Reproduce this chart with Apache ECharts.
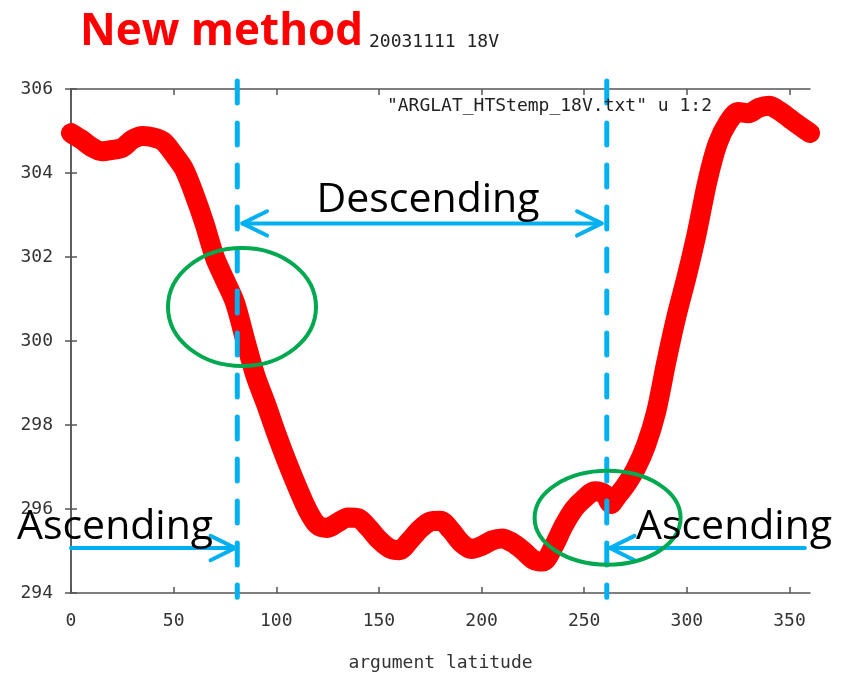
<!DOCTYPE html>
<html><head><meta charset="utf-8">
<script src="https://cdn.jsdelivr.net/npm/echarts@6/dist/echarts.min.js"></script>
<style>html,body{margin:0;padding:0;background:#fff}#c{width:846px;height:678px}</style>
</head><body><div id="c"></div>
<script>
// ---- data ----
const lat = [0,5,10,15,20,25,30,35,40,45,50,55,60,65,70,75,80,85,90,95,100,105,110,115,120,125,130,135,140,145,150,155,160,165,170,175,180,185,190,195,200,205,210,215,220,225,230,235,240,245,250,255,260,263,266,270,275,280,285,290,295,300,305,310,315,320,325,330,335,340,345,350,355,360];
const temp = [304.95,304.8,304.62,304.52,304.55,304.6,304.8,304.88,304.85,304.75,304.45,304.1,303.5,302.8,302.0,301.45,300.9,300.0,299.15,298.5,297.8,297.15,296.55,296.0,295.62,295.55,295.68,295.8,295.78,295.55,295.27,295.07,295.02,295.25,295.52,295.7,295.72,295.5,295.2,295.05,295.12,295.25,295.3,295.2,295.02,294.8,294.75,295.1,295.6,296.0,296.25,296.42,296.35,296.12,296.3,296.55,296.95,297.5,298.3,299.5,300.6,301.55,302.6,303.8,304.7,305.2,305.45,305.42,305.55,305.6,305.48,305.3,305.12,304.95];
const xTicks = [0,50,100,150,200,250,300,350];
const yTicks = [294,296,298,300,302,304,306];
const boundaries = [81, 261];           // dashed vertical lines (argument latitude)
const titleText = 'New method';
const subText = '20031111 18V';
const legendText = '"ARGLAT_HTStemp_18V.txt" u 1:2';
const xName = 'argument latitude';

const chart = echarts.init(document.getElementById('c'), null, {renderer:'canvas'});
const mono = 'DejaVu Sans Mono';
const axisCol = '#555';
const blue = '#00b0f0';

const arrowDx = 12, arrowDy = 0.29;
function arrowHead(tx, ty, dir){ // dir +1 pointing right, -1 pointing left
  return [[tx - dir*arrowDx, ty + arrowDy],[tx, ty],[tx - dir*arrowDx, ty - arrowDy]];
}
function lineSeries(data, color, width, dash, z){
  return {type:'line', data, symbol:'none', clip:false, silent:true, z:z||5,
    lineStyle:{color, width, type: dash||'solid', cap:'round', join:'round'}, animation:false};
}
const descY = 302.8, ascY = 295.07;
const series = [
  {type:'line', data: lat.map((x,i)=>[x,temp[i]]), symbol:'none', smooth:0.3, z:2,
   lineStyle:{color:'#ff0000', width:20, cap:'round', join:'round'}, animation:false},
  lineSeries([[boundaries[0],306.19],[boundaries[0],293.9]], blue, 5, [22,20], 6),
  lineSeries([[boundaries[1],306.19],[boundaries[1],293.9]], blue, 5, [22,20], 6),
  lineSeries([[83.5,descY],[258.5,descY]], blue, 4, 'solid', 7),
  lineSeries(arrowHead(83.5,descY,-1), blue, 4, 'solid', 7),
  lineSeries(arrowHead(258.5,descY,1), blue, 4, 'solid', 7),
  lineSeries([[0,ascY],[80,ascY]], blue, 4, 'solid', 7),
  lineSeries(arrowHead(80,ascY,1), blue, 4, 'solid', 7),
  lineSeries([[357.5,ascY],[262.5,ascY]], blue, 4, 'solid', 7),
  lineSeries(arrowHead(262.5,ascY,-1), blue, 4, 'solid', 7),
];

const axisCommon = {
  type:'value', splitLine:{show:false},
  axisLine:{show:true, lineStyle:{color:axisCol, width:1.5}},
};
chart.setOption({
  animation:false,
  backgroundColor:'#fff',
  grid:{left:71, right:36, top:89, bottom:85},
  xAxis:[
    Object.assign({}, axisCommon, {min:0, max:360, position:'bottom',
      name:xName, nameLocation:'middle', nameGap:61,
      nameTextStyle:{fontFamily:mono, fontSize:18, color:'#333'},
      axisTick:{inside:true, length:6, customValues:xTicks, lineStyle:{color:axisCol, width:1.5}},
      axisLabel:{customValues:xTicks, margin:19, fontFamily:mono, fontSize:18, color:'#333'}}),
    Object.assign({}, axisCommon, {min:0, max:360, position:'top',
      axisTick:{inside:true, length:6, customValues:xTicks, lineStyle:{color:axisCol, width:1.5}},
      axisLabel:{show:false}})
  ],
  yAxis:[
    Object.assign({}, axisCommon, {min:294, max:306, position:'left',
      axisTick:{inside:true, length:6, customValues:yTicks, lineStyle:{color:axisCol, width:1.5}},
      axisLabel:{customValues:yTicks, margin:18, fontFamily:mono, fontSize:18, color:'#333'}}),
    Object.assign({}, axisCommon, {min:294, max:306, position:'right',
      axisTick:{inside:true, length:6, customValues:yTicks, lineStyle:{color:axisCol, width:1.5}},
      axisLabel:{show:false}})
  ],
  series
});

const c1 = chart.convertToPixel({gridIndex:0}, [83.3, 300.81]);
const c2 = chart.convertToPixel({gridIndex:0}, [261.4, 295.79]);
const green = '#00a84f';
const bigFont = '"Open Sans"';
chart.setOption({graphic:[
  {type:'ellipse', z:20, shape:{cx:c1[0], cy:c1[1], rx:74, ry:59}, style:{fill:'none', stroke:green, lineWidth:4}},
  {type:'ellipse', z:20, shape:{cx:c2[0], cy:c2[1], rx:73, ry:47}, style:{fill:'none', stroke:green, lineWidth:4}},
  {type:'text', z:30, x:80, y:32, style:{text:titleText, font:'bold 44px '+bigFont, fill:'#ff0000', textVerticalAlign:'middle'}},
  {type:'text', z:30, x:369, y:42, style:{text:subText, font:'18px '+mono, fill:'#222', textVerticalAlign:'middle'}},
  {type:'text', z:30, x:712, y:106, style:{text:legendText, font:'18px '+mono, fill:'#222', textAlign:'right', textVerticalAlign:'middle'}},
  {type:'text', z:30, x:428, y:200, style:{text:'Descending', font:'41px '+bigFont, fill:'#000', textAlign:'center', textVerticalAlign:'middle'}},
  {type:'text', z:30, x:17, y:527, style:{text:'Ascending', font:'41px '+bigFont, fill:'#000', textVerticalAlign:'middle'}},
  {type:'text', z:30, x:636, y:527, style:{text:'Ascending', font:'41px '+bigFont, fill:'#000', textVerticalAlign:'middle'}}
]});
</script></body></html>
